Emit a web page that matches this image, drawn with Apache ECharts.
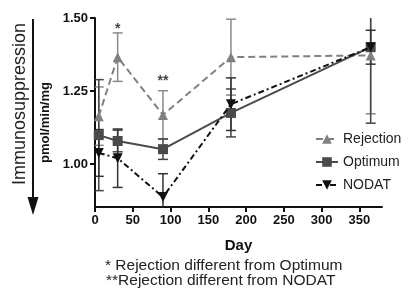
<!DOCTYPE html>
<html>
<head>
<meta charset="utf-8">
<script src="https://cdn.jsdelivr.net/npm/echarts@6/dist/echarts.min.js"></script>
<style>
  html, body { margin: 0; padding: 0; background: #fff; }
  #chart { width: 409px; height: 288px; }
</style>
</head>
<body>
<div id="chart"></div>
<script>
// days of measurement
var days = [5, 30, 90, 180, 365];

// means (pmol/min/mg)
var rejection = [1.164, 1.366, 1.168, 1.366, 1.372];
var optimum = [1.099, 1.079, 1.051, 1.175, 1.400];
var nodat = [1.038, 1.020, 0.887, 1.205, 1.400];

// error bar half widths
var rejectionErr = [0.10, 0.083, 0.083, 0.13, 0.20];
var optimumErr = [0.19, 0.037, 0.035, 0.082, 0.26];
var nodatErr = [0.08, 0.10, 0.08, 0.09, 0.058];

// significance marks
var starDays = [30, 90];
var starVals = [1.462, 1.285];
var starText = ['*', '**'];

var yTicks = [1.00, 1.25, 1.50];
var xTicks = [0, 50, 100, 150, 200, 250, 300, 350];

var font = 'Liberation Sans, Arial, sans-serif';

function pairs(xs, ys) {
    var out = [];
    for (var i = 0; i < xs.length; i++) {
        out.push([xs[i], ys[i]]);
    }
    return out;
}

function errData(xs, ys, es) {
    var out = [];
    for (var i = 0; i < xs.length; i++) {
        out.push([xs[i], ys[i] - es[i], ys[i] + es[i]]);
    }
    return out;
}

function errSeries(name, data, color) {
    return {
        name: name,
        type: 'custom',
        clip: true,
        silent: true,
        z: 1,
        data: data,
        renderItem: function (params, api) {
            var lo = api.coord([api.value(0), api.value(1)]);
            var hi = api.coord([api.value(0), api.value(2)]);
            var w = 5;
            var st = { stroke: color, lineWidth: 1.5 };
            return {
                type: 'group',
                children: [
                    { type: 'line', shape: { x1: lo[0], y1: lo[1], x2: hi[0], y2: hi[1] }, style: st },
                    { type: 'line', shape: { x1: lo[0] - w, y1: lo[1], x2: lo[0] + w, y2: lo[1] }, style: st },
                    { type: 'line', shape: { x1: hi[0] - w, y1: hi[1], x2: hi[0] + w, y2: hi[1] }, style: st }
                ]
            };
        }
    };
}

var chart = echarts.init(document.getElementById('chart'));

var option = {
    animation: false,
    backgroundColor: '#fff',
    grid: { left: 95, right: 27, top: 18, bottom: 81 },
    legend: {
        orient: 'vertical',
        left: 310,
        top: 127,
        itemWidth: 22,
        itemHeight: 12,
        itemGap: 9,
        textStyle: { fontFamily: font, fontSize: 14, color: '#222' },
        data: ['Rejection', 'Optimum', 'NODAT']
    },
    xAxis: {
        type: 'value',
        min: 0,
        max: 380,
        name: 'Day',
        nameLocation: 'middle',
        nameGap: 31,
        nameTextStyle: { fontFamily: font, fontSize: 15, fontWeight: 'bold', color: '#111' },
        axisLine: { lineStyle: { color: '#111', width: 2 } },
        axisTick: { customValues: xTicks, length: 5, lineStyle: { color: '#111', width: 2 } },
        axisLabel: { customValues: xTicks, fontFamily: font, fontSize: 13, fontWeight: 'bold', color: '#111', margin: 7 },
        splitLine: { show: false }
    },
    yAxis: {
        type: 'value',
        min: 0.853,
        max: 1.5,
        name: 'pmol/min/mg',
        nameLocation: 'middle',
        nameGap: 43,
        nameRotate: 90,
        nameTextStyle: { fontFamily: font, fontSize: 13, fontWeight: 'bold', color: '#111', padding: [0, 20, 0, 0] },
        axisLine: { show: true, lineStyle: { color: '#111', width: 2 } },
        axisTick: { show: true, customValues: yTicks, length: 5, lineStyle: { color: '#111', width: 2 } },
        axisLabel: {
            customValues: yTicks,
            fontFamily: font, fontSize: 13, fontWeight: 'bold', color: '#111', margin: 7,
            formatter: function (v) { return v.toFixed(2); }
        },
        splitLine: { show: false }
    },
    graphic: [
        {
            type: 'text',
            x: 11, y: 185,
            rotation: Math.PI / 2,
            style: { text: 'Immunosuppression', fontFamily: font, fontSize: 18, fill: '#222' }
        },
        {
            type: 'line',
            shape: { x1: 33, y1: 19, x2: 33, y2: 200 },
            style: { stroke: '#111', lineWidth: 2 }
        },
        {
            type: 'polygon',
            shape: { points: [[27.5, 197], [38.5, 197], [33, 215]] },
            style: { fill: '#111' }
        },
        {
            type: 'text',
            x: 105, y: 258,
            style: { text: '* Rejection different from Optimum', fontFamily: font, fontSize: 15.5, fill: '#222' }
        },
        {
            type: 'text',
            x: 106, y: 273,
            style: { text: '**Rejection different from NODAT', fontFamily: font, fontSize: 15.5, fill: '#222' }
        }
    ],
    series: [
        errSeries('errRejection', errData(days, rejection, rejectionErr), '#8a8a8a'),
        errSeries('errOptimum', errData(days, optimum, optimumErr), '#444'),
        errSeries('errNodat', errData(days, nodat, nodatErr), '#333'),
        {
            name: 'Rejection',
            type: 'line',
            z: 3,
            data: pairs(days, rejection),
            symbol: 'triangle',
            symbolSize: 10,
            itemStyle: { color: '#808080' },
            lineStyle: { color: '#808080', width: 2, type: [7, 4] }
        },
        {
            name: 'Optimum',
            type: 'line',
            z: 4,
            data: pairs(days, optimum),
            symbol: 'rect',
            symbolSize: 10,
            itemStyle: { color: '#4a4a4a' },
            lineStyle: { color: '#4a4a4a', width: 2 }
        },
        {
            name: 'NODAT',
            type: 'line',
            z: 5,
            data: pairs(days, nodat),
            symbol: 'triangle',
            symbolRotate: 180,
            symbolSize: 10,
            itemStyle: { color: '#111' },
            lineStyle: { color: '#111', width: 2, type: [6, 3, 2, 3] }
        },
        {
            name: 'stars',
            type: 'scatter',
            silent: true,
            symbolSize: 0,
            data: pairs(starDays, starVals),
            label: {
                show: true,
                position: 'inside',
                fontFamily: font,
                fontSize: 14,
                fontWeight: 'bold',
                color: '#111',
                formatter: function (p) { return starText[p.dataIndex]; }
            }
        }
    ]
};

chart.setOption(option);
</script>
</body>
</html>
